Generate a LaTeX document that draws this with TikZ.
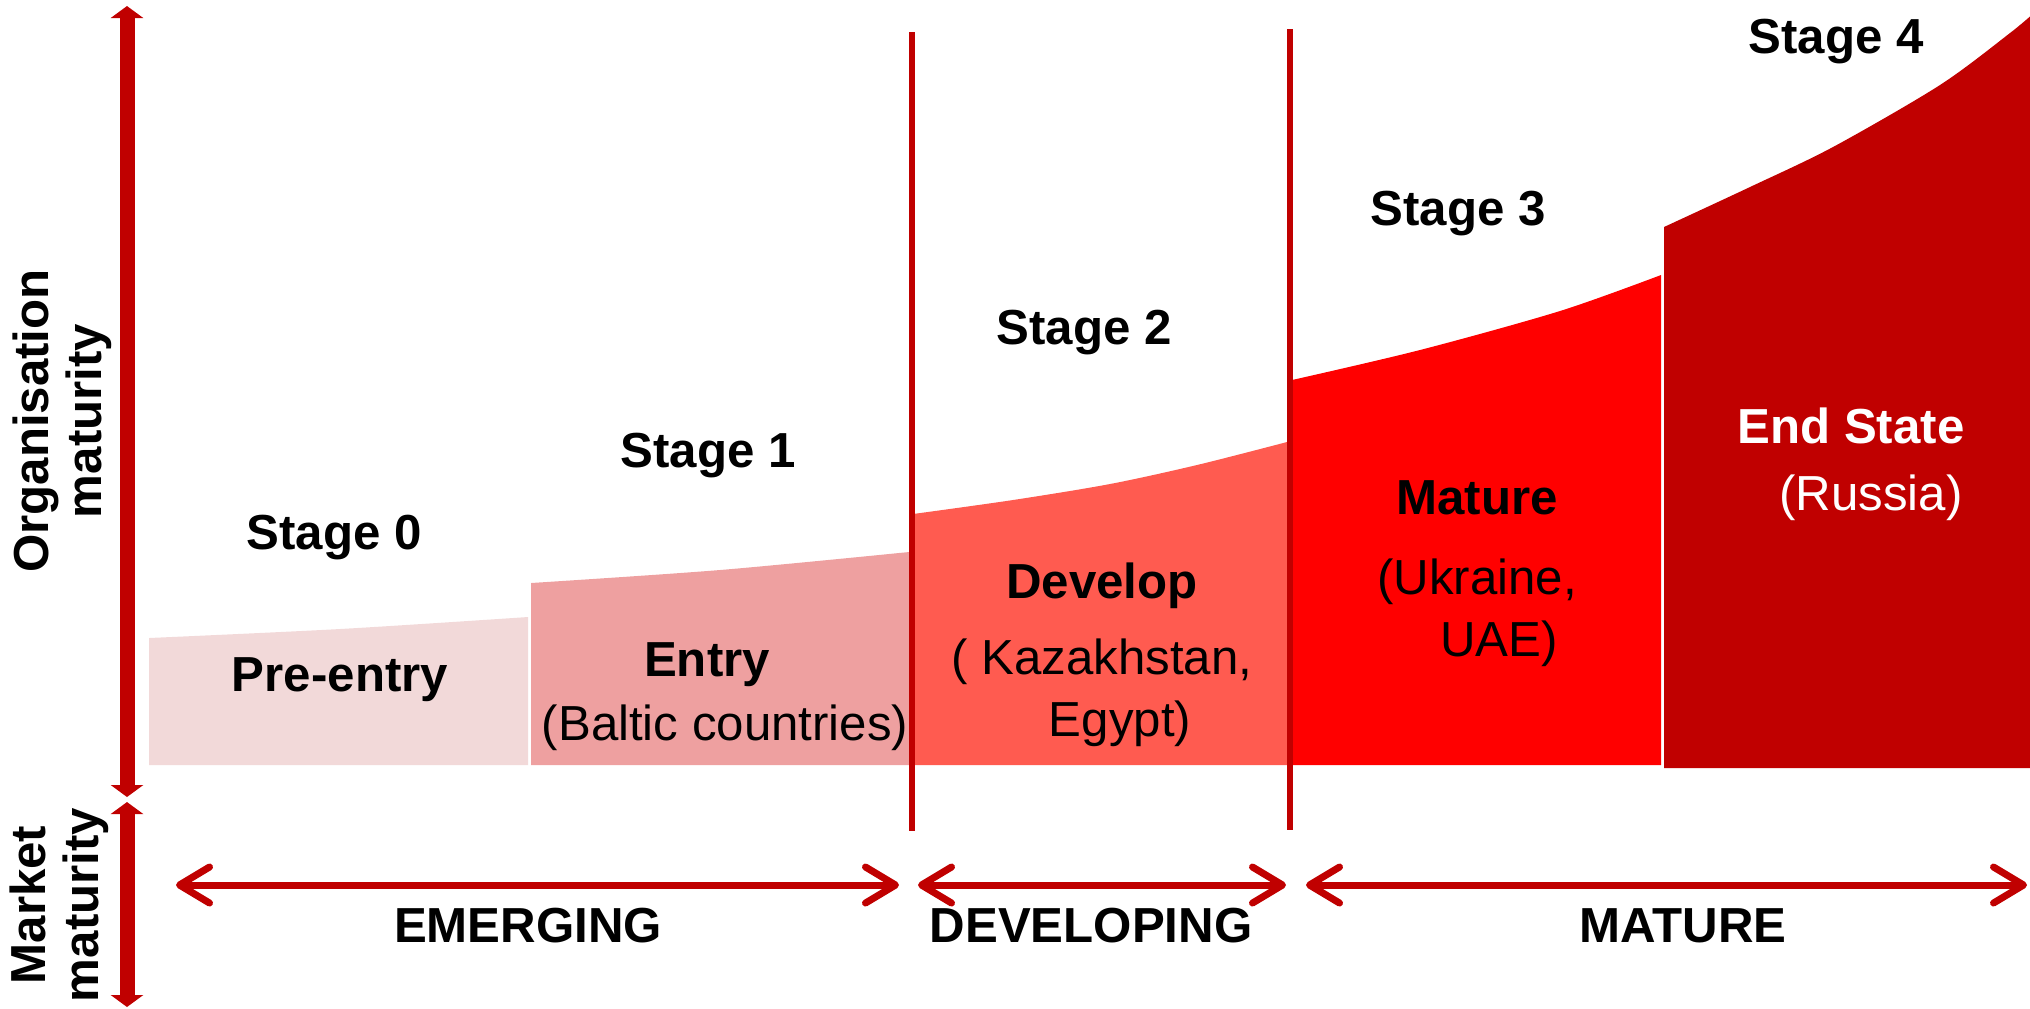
\documentclass[tikz,border=0pt]{standalone}
\usepackage{fontspec}
\setmainfont{Liberation Sans}
\usetikzlibrary{arrows.meta}

\definecolor{preentryfill}{HTML}{F2D9D9}
\definecolor{entryfill}{HTML}{EEA0A0}
\definecolor{developfill}{HTML}{FF5B50}
\definecolor{maturefill}{HTML}{FF0000}
\definecolor{endfill}{HTML}{C00000}
\definecolor{darkred}{HTML}{C00000}

\begin{document}
\begin{tikzpicture}[x=0.1mm,y=-0.1mm,
    txt/.style={anchor=base,font=\fontsize{14}{17}\selectfont},
    bold/.style={anchor=base,font=\fontsize{14}{17}\selectfont\bfseries},
    axislbl/.style={rotate=90,align=center,font=\fontsize{14}{15}\selectfont\bfseries},
    bigarrow/.style={darkred,line width=1.5mm,{Triangle[length=1.2mm,width=3.2mm]}-{Triangle[length=1.2mm,width=3.2mm]}},
    marketarrow/.style={darkred,line width=0.7mm,{Straight Barb[round,length=3mm,width=3.6mm]}-{Straight Barb[round,length=3mm,width=3.6mm]}}]
\useasboundingbox (0,0) rectangle (2030,1008);

% stage areas
\fill[preentryfill] (149,765) -- plot[smooth] coordinates {(149,638) (340,629) (528,617)} -- (528,765) -- cycle;
\fill[entryfill] (531,765) -- plot[smooth] coordinates {(531,583) (720,570) (909,552)} -- (909,765) -- cycle;
\fill[developfill] (913,765) -- plot[smooth] coordinates {(913,514) (1013,500) (1110,484) (1197,465) (1287,442)} -- (1287,765) -- cycle;
\fill[maturefill] (1292,765) -- plot[smooth] coordinates {(1292,380) (1420,350) (1560,311) (1661,275)} -- (1661,765) -- cycle;
\fill[endfill] (1664,768) -- plot[smooth] coordinates {(1664,227) (1750,187) (1833,147) (1940,85) (2010,33) (2035,12)} -- (2035,768) -- cycle;

% dividers
\draw[darkred,line width=0.6mm] (912,32) -- (912,831);
\draw[darkred,line width=0.55mm] (1290,29) -- (1290,830);

% axes
\draw[bigarrow] (127,6) -- (127,797);
\draw[bigarrow] (127,802) -- (127,1007);
\node[axislbl] (orgmat) at (62,421) {Organisation\\maturity};
\node[axislbl] (mktmat) at (59,905) {Market\\maturity};

% market arrows
\draw[marketarrow] (176,885) -- (899,885);
\draw[marketarrow] (918,885) -- (1286,885);
\draw[marketarrow] (1306,885) -- (2027,885);
\node[bold] (emerging) at (528,942) {EMERGING};
\node[bold] (developing) at (1091,942) {DEVELOPING};
\node[bold] (mature) at (1683,942) {MATURE};

% stages
\node[bold] (stage0) at (334,549) {Stage 0};
\node[bold] (stage1) at (708,467) {Stage 1};
\node[bold] (stage2) at (1084,344) {Stage 2};
\node[bold] (stage3) at (1458,225) {Stage 3};
\node[bold] (stage4) at (1836,53) {Stage 4};

\node[bold] (preentry) at (340,691) {Pre-entry};
\node[bold] (entry) at (707,676) {Entry};
\node[txt] (entryc) at (725,740) {(Baltic countries)};
\node[bold] (develop) at (1102,598) {Develop};
\node[txt] (developc1) at (1102,674) {( Kazakhstan,};
\node[txt] (developc2) at (1120,736) {Egypt)};
\node[bold] (maturity) at (1477,514) {Mature};
\node[txt] (maturec1) at (1477,594) {(Ukraine,};
\node[txt] (maturec2) at (1499,656) {UAE)};
\node[bold,white] (endstate) at (1851,443) {End State};
\node[txt,white] (endc) at (1871,510) {(Russia)};
\end{tikzpicture}
\end{document}
